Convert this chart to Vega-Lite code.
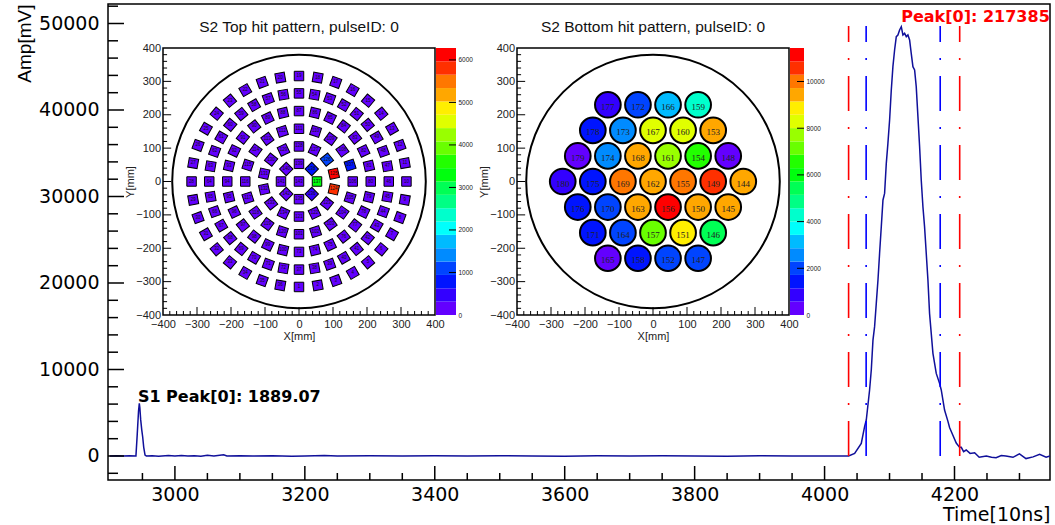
{
"$schema":"https://vega.github.io/schema/vega-lite/v6.json",
"width":942,"height":476,
"autosize":{"type":"none"},
"padding":{"left":108,"top":4,"right":5,"bottom":45},
"background":"white",
"config":{"view":{"stroke":"#000","strokeWidth":1.5},
 "font":"Liberation Sans",
 "axis":{"labelFlush":false,"labelOverlap":false,"grid":false,"domain":false,"ticks":false,"labelColor":"#000","titleColor":"#000","titleFontWeight":"normal","labelFont":"Liberation Sans","titleFont":"Liberation Sans"}},
"datasets":{
"wave":[{"t":2900,"a":0},{"t":2910,"a":30},{"t":2920,"a":0},{"t":2930,"a":20},{"t":2940,"a":0},{"t":2942,"a":2500},{"t":2944,"a":5200},{"t":2945.2,"a":6100},{"t":2946,"a":5600},{"t":2947.3,"a":4200},{"t":2949,"a":3000},{"t":2950.4,"a":2200},{"t":2952,"a":1000},{"t":2954,"a":100},{"t":2956,"a":0},{"t":2965,"a":20},{"t":2975,"a":-30},{"t":2990,"a":50},{"t":3000,"a":0},{"t":3010,"a":60},{"t":3020,"a":0},{"t":3030,"a":40},{"t":3040,"a":-20},{"t":3050,"a":80},{"t":3060,"a":0},{"t":3075,"a":150},{"t":3080,"a":0},{"t":3100,"a":40},{"t":3120,"a":0},{"t":3150,"a":30},{"t":3180,"a":-20},{"t":3200,"a":0},{"t":3230,"a":60},{"t":3250,"a":0},{"t":3300,"a":20},{"t":3350,"a":-10},{"t":3400,"a":30},{"t":3450,"a":0},{"t":3500,"a":40},{"t":3550,"a":0},{"t":3600,"a":-20},{"t":3650,"a":30},{"t":3700,"a":0},{"t":3750,"a":20},{"t":3800,"a":0},{"t":3850,"a":-30},{"t":3900,"a":20},{"t":3950,"a":0},{"t":4000,"a":10},{"t":4020,"a":0},{"t":4037,"a":0},
{"t":4046.3,"a":300},{"t":4056.5,"a":1460},{"t":4061.6,"a":3390},{"t":4064.2,"a":4160},{"t":4069.3,"a":7630},{"t":4071.9,"a":9940},{"t":4074.5,"a":13400},{"t":4077,"a":14950},{"t":4079.6,"a":17650},{"t":4082.2,"a":20340},{"t":4084.7,"a":23430},{"t":4087.3,"a":26510},{"t":4089.9,"a":29600},{"t":4092.4,"a":30360},{"t":4095,"a":33830},{"t":4097.5,"a":36140},{"t":4100.1,"a":38840},{"t":4102.7,"a":42310},{"t":4105.2,"a":45010},{"t":4107.8,"a":46940},{"t":4110.4,"a":48480},{"t":4112.9,"a":48670},{"t":4115.5,"a":49250},{"t":4118.1,"a":49630},{"t":4120.6,"a":48670},{"t":4123.2,"a":48860},{"t":4125.8,"a":48480},{"t":4128.3,"a":48670},{"t":4130.9,"a":48090},{"t":4133.4,"a":46550},{"t":4136,"a":45010},{"t":4138.6,"a":44630},{"t":4141.1,"a":42700},{"t":4143.7,"a":39230},{"t":4146.3,"a":35760},{"t":4148.8,"a":31910},{"t":4151.4,"a":28820},{"t":4153.9,"a":26510},{"t":4156.5,"a":23430},{"t":4159.1,"a":20340},{"t":4161.6,"a":16490},{"t":4164.2,"a":14180},{"t":4166.8,"a":11870},{"t":4171.9,"a":9550},{"t":4177,"a":8400},{"t":4179.6,"a":7630},{"t":4182.2,"a":6470},{"t":4184.7,"a":5310},{"t":4189.9,"a":4000},{"t":4192.4,"a":3300},{"t":4197.5,"a":2400},{"t":4202.7,"a":1500},{"t":4207.8,"a":1000},{"t":4210.4,"a":1000},{"t":4214,"a":500},{"t":4218,"a":690},{"t":4224,"a":300},{"t":4231,"a":380},{"t":4238,"a":-150},{"t":4249,"a":0},{"t":4257,"a":-150},{"t":4264,"a":-200},{"t":4272,"a":50},{"t":4279,"a":0},{"t":4290,"a":-150},{"t":4300,"a":250},{"t":4310,"a":-300},{"t":4321,"a":-100},{"t":4331,"a":200},{"t":4341,"a":-150},{"t":4347,"a":0}],
"marks":[{"t":4037,"c":"r"},{"t":4208,"c":"r"},{"t":4064,"c":"b"},{"t":4178,"c":"b"}],
"notes":[{"t":2943,"a":6200,"label":"S1 Peak[0]: 1889.07","c":"k"},{"t":4118,"a":50200,"label":"Peak[0]: 217385","c":"r"}],
"top":[{"id":1,"x":0,"y":-316,"phi":270,"v":180},{"id":2,"x":54.9,"y":-311.2,"phi":280,"v":240},{"id":3,"x":108.1,"y":-296.9,"phi":290,"v":150},{"id":4,"x":158,"y":-273.7,"phi":300,"v":210},{"id":5,"x":203.1,"y":-242.1,"phi":310,"v":270},{"id":6,"x":242.1,"y":-203.1,"phi":320,"v":130},{"id":7,"x":273.7,"y":-158,"phi":330,"v":200},{"id":8,"x":296.9,"y":-108.1,"phi":340,"v":260},{"id":9,"x":311.2,"y":-54.9,"phi":350,"v":170},{"id":10,"x":316,"y":0,"phi":0,"v":230},{"id":11,"x":311.2,"y":54.9,"phi":10,"v":180},{"id":12,"x":296.9,"y":108.1,"phi":20,"v":240},{"id":13,"x":273.7,"y":158,"phi":30,"v":150},{"id":14,"x":242.1,"y":203.1,"phi":40,"v":210},{"id":15,"x":203.1,"y":242.1,"phi":50,"v":270},{"id":16,"x":158,"y":273.7,"phi":60,"v":130},{"id":17,"x":108.1,"y":296.9,"phi":70,"v":200},{"id":18,"x":54.9,"y":311.2,"phi":80,"v":260},{"id":19,"x":0,"y":316,"phi":90,"v":170},{"id":20,"x":-54.9,"y":311.2,"phi":100,"v":230},{"id":21,"x":-108.1,"y":296.9,"phi":110,"v":180},{"id":22,"x":-158,"y":273.7,"phi":120,"v":240},{"id":23,"x":-203.1,"y":242.1,"phi":130,"v":150},{"id":24,"x":-242.1,"y":203.1,"phi":140,"v":210},{"id":25,"x":-273.7,"y":158,"phi":150,"v":270},{"id":26,"x":-296.9,"y":108.1,"phi":160,"v":130},{"id":27,"x":-311.2,"y":54.9,"phi":170,"v":200},{"id":28,"x":-316,"y":0,"phi":180,"v":260},{"id":29,"x":-311.2,"y":-54.9,"phi":190,"v":170},{"id":30,"x":-296.9,"y":-108.1,"phi":200,"v":230},{"id":31,"x":-273.7,"y":-158,"phi":210,"v":180},{"id":32,"x":-242.1,"y":-203.1,"phi":220,"v":240},{"id":33,"x":-203.1,"y":-242.1,"phi":230,"v":150},{"id":34,"x":-158,"y":-273.7,"phi":240,"v":210},{"id":35,"x":-108.1,"y":-296.9,"phi":250,"v":270},{"id":36,"x":-54.9,"y":-311.2,"phi":260,"v":130},
{"id":37,"x":0,"y":-264,"phi":270,"v":200},{"id":38,"x":45.8,"y":-260,"phi":280,"v":260},{"id":39,"x":90.3,"y":-248.1,"phi":290,"v":170},{"id":40,"x":132,"y":-228.6,"phi":300,"v":230},{"id":41,"x":169.7,"y":-202.2,"phi":310,"v":180},{"id":42,"x":202.2,"y":-169.7,"phi":320,"v":240},{"id":43,"x":228.6,"y":-132,"phi":330,"v":150},{"id":44,"x":248.1,"y":-90.3,"phi":340,"v":210},{"id":45,"x":260,"y":-45.8,"phi":350,"v":270},{"id":46,"x":264,"y":0,"phi":0,"v":130},{"id":47,"x":260,"y":45.8,"phi":10,"v":200},{"id":48,"x":248.1,"y":90.3,"phi":20,"v":260},{"id":49,"x":228.6,"y":132,"phi":30,"v":170},{"id":50,"x":202.2,"y":169.7,"phi":40,"v":230},{"id":51,"x":169.7,"y":202.2,"phi":50,"v":180},{"id":52,"x":132,"y":228.6,"phi":60,"v":240},{"id":53,"x":90.3,"y":248.1,"phi":70,"v":150},{"id":54,"x":45.8,"y":260,"phi":80,"v":210},{"id":55,"x":0,"y":264,"phi":90,"v":270},{"id":56,"x":-45.8,"y":260,"phi":100,"v":130},{"id":57,"x":-90.3,"y":248.1,"phi":110,"v":200},{"id":58,"x":-132,"y":228.6,"phi":120,"v":260},{"id":59,"x":-169.7,"y":202.2,"phi":130,"v":170},{"id":60,"x":-202.2,"y":169.7,"phi":140,"v":230},{"id":61,"x":-228.6,"y":132,"phi":150,"v":180},{"id":62,"x":-248.1,"y":90.3,"phi":160,"v":240},{"id":63,"x":-260,"y":45.8,"phi":170,"v":150},{"id":64,"x":-264,"y":0,"phi":180,"v":210},{"id":65,"x":-260,"y":-45.8,"phi":190,"v":270},{"id":66,"x":-248.1,"y":-90.3,"phi":200,"v":130},{"id":67,"x":-228.6,"y":-132,"phi":210,"v":200},{"id":68,"x":-202.2,"y":-169.7,"phi":220,"v":260},{"id":69,"x":-169.7,"y":-202.2,"phi":230,"v":170},{"id":70,"x":-132,"y":-228.6,"phi":240,"v":230},{"id":71,"x":-90.3,"y":-248.1,"phi":250,"v":180},{"id":72,"x":-45.8,"y":-260,"phi":260,"v":240},
{"id":73,"x":0,"y":-211,"phi":270,"v":150},{"id":74,"x":46.9,"y":-205.7,"phi":282.9,"v":210},{"id":75,"x":91.6,"y":-190.1,"phi":295.7,"v":270},{"id":76,"x":131.6,"y":-165,"phi":308.6,"v":130},{"id":77,"x":165,"y":-131.6,"phi":321.4,"v":200},{"id":78,"x":190.1,"y":-91.6,"phi":334.3,"v":260},{"id":79,"x":205.7,"y":-46.9,"phi":347.1,"v":170},{"id":80,"x":211,"y":0,"phi":0,"v":230},{"id":81,"x":205.7,"y":46.9,"phi":12.9,"v":180},{"id":82,"x":190.1,"y":91.6,"phi":25.7,"v":240},{"id":83,"x":165,"y":131.6,"phi":38.6,"v":150},{"id":84,"x":131.6,"y":165,"phi":51.4,"v":210},{"id":85,"x":91.6,"y":190.1,"phi":64.3,"v":270},{"id":86,"x":46.9,"y":205.7,"phi":77.1,"v":130},{"id":87,"x":0,"y":211,"phi":90,"v":200},{"id":88,"x":-46.9,"y":205.7,"phi":102.9,"v":260},{"id":89,"x":-91.6,"y":190.1,"phi":115.7,"v":170},{"id":90,"x":-131.6,"y":165,"phi":128.6,"v":230},{"id":91,"x":-165,"y":131.6,"phi":141.4,"v":180},{"id":92,"x":-190.1,"y":91.6,"phi":154.3,"v":240},{"id":93,"x":-205.7,"y":46.9,"phi":167.1,"v":150},{"id":94,"x":-211,"y":0,"phi":180,"v":210},{"id":95,"x":-205.7,"y":-46.9,"phi":192.9,"v":270},{"id":96,"x":-190.1,"y":-91.6,"phi":205.7,"v":130},{"id":97,"x":-165,"y":-131.6,"phi":218.6,"v":200},{"id":98,"x":-131.6,"y":-165,"phi":231.4,"v":260},{"id":99,"x":-91.6,"y":-190.1,"phi":244.3,"v":170},{"id":100,"x":-46.9,"y":-205.7,"phi":257.1,"v":230},
{"id":101,"x":0,"y":-158,"phi":270,"v":180},{"id":102,"x":48.8,"y":-150.3,"phi":288,"v":240},{"id":103,"x":92.9,"y":-127.8,"phi":306,"v":150},{"id":104,"x":127.8,"y":-92.9,"phi":324,"v":210},{"id":105,"x":150.3,"y":-48.8,"phi":342,"v":270},{"id":106,"x":158,"y":0,"phi":0,"v":280},{"id":107,"x":150.3,"y":48.8,"phi":18,"v":720},{"id":108,"x":127.8,"y":92.9,"phi":36,"v":260},{"id":109,"x":92.9,"y":127.8,"phi":54,"v":170},{"id":110,"x":48.8,"y":150.3,"phi":72,"v":230},{"id":111,"x":0,"y":158,"phi":90,"v":180},{"id":112,"x":-48.8,"y":150.3,"phi":108,"v":240},{"id":113,"x":-92.9,"y":127.8,"phi":126,"v":150},{"id":114,"x":-127.8,"y":92.9,"phi":144,"v":210},{"id":115,"x":-150.3,"y":48.8,"phi":162,"v":270},{"id":116,"x":-158,"y":0,"phi":180,"v":130},{"id":117,"x":-150.3,"y":-48.8,"phi":198,"v":200},{"id":118,"x":-127.8,"y":-92.9,"phi":216,"v":260},{"id":119,"x":-92.9,"y":-127.8,"phi":234,"v":170},{"id":120,"x":-48.8,"y":-150.3,"phi":252,"v":230},
{"id":121,"x":0,"y":-105,"phi":270,"v":200},{"id":122,"x":45.6,"y":-94.6,"phi":295.7,"v":280},{"id":123,"x":82.1,"y":-65.5,"phi":321.4,"v":300},{"id":124,"x":102.4,"y":-23.4,"phi":347.1,"v":5800},{"id":125,"x":102.4,"y":23.4,"phi":12.9,"v":6280},{"id":126,"x":82.1,"y":65.5,"phi":38.6,"v":1050},{"id":127,"x":45.6,"y":94.6,"phi":64.3,"v":290},{"id":128,"x":0,"y":105,"phi":90,"v":240},{"id":129,"x":-45.6,"y":94.6,"phi":115.7,"v":210},{"id":130,"x":-82.1,"y":65.5,"phi":141.4,"v":180},{"id":131,"x":-102.4,"y":23.4,"phi":167.1,"v":200},{"id":132,"x":-102.4,"y":-23.4,"phi":192.9,"v":190},{"id":133,"x":-82.1,"y":-65.5,"phi":218.6,"v":170},{"id":134,"x":-45.6,"y":-94.6,"phi":244.3,"v":220},
{"id":135,"x":0,"y":-53,"phi":270,"v":300},{"id":136,"x":37.5,"y":-37.5,"phi":315,"v":450},{"id":137,"x":53,"y":0,"phi":0,"v":3300},{"id":138,"x":37.5,"y":37.5,"phi":45,"v":780},{"id":139,"x":0,"y":53,"phi":90,"v":280},{"id":140,"x":-37.5,"y":37.5,"phi":135,"v":250},{"id":141,"x":-53,"y":0,"phi":180,"v":240},{"id":142,"x":-37.5,"y":-37.5,"phi":225,"v":260},{"id":143,"x":0,"y":0,"phi":0,"v":290}],
"bot":[{"id":177,"x":-132.75,"y":229.9,"v":800},{"id":172,"x":-44.25,"y":229.9,"v":2000},{"id":166,"x":44.25,"y":229.9,"v":3150},{"id":159,"x":132.75,"y":229.9,"v":4300},
{"id":178,"x":-177,"y":153.3,"v":1430},{"id":173,"x":-88.5,"y":153.3,"v":2570},{"id":167,"x":0,"y":153.3,"v":8300},{"id":160,"x":88.5,"y":153.3,"v":8350},{"id":153,"x":177,"y":153.3,"v":9450},
{"id":179,"x":-221.25,"y":76.6,"v":450},{"id":174,"x":-132.75,"y":76.6,"v":2600},{"id":168,"x":-44.25,"y":76.6,"v":9400},{"id":161,"x":44.25,"y":76.6,"v":7700},{"id":154,"x":132.75,"y":76.6,"v":6550},{"id":148,"x":221.25,"y":76.6,"v":450},
{"id":180,"x":-265.5,"y":0,"v":800},{"id":175,"x":-177,"y":0,"v":1400},{"id":169,"x":-88.5,"y":0,"v":10000},{"id":162,"x":0,"y":0,"v":9600},{"id":155,"x":88.5,"y":0,"v":10050},{"id":149,"x":177,"y":0,"v":10800},{"id":144,"x":265.5,"y":0,"v":9500},
{"id":176,"x":-221.25,"y":-76.6,"v":1450},{"id":170,"x":-132.75,"y":-76.6,"v":2050},{"id":163,"x":-44.25,"y":-76.6,"v":9350},{"id":156,"x":44.25,"y":-76.6,"v":11435},{"id":150,"x":132.75,"y":-76.6,"v":9450},{"id":145,"x":221.25,"y":-76.6,"v":9300},
{"id":171,"x":-177,"y":-153.3,"v":1500},{"id":164,"x":-88.5,"y":-153.3,"v":2100},{"id":157,"x":0,"y":-153.3,"v":7200},{"id":151,"x":88.5,"y":-153.3,"v":8900},{"id":146,"x":177,"y":-153.3,"v":5500},
{"id":165,"x":-132.75,"y":-229.9,"v":500},{"id":158,"x":-44.25,"y":-229.9,"v":1500},{"id":152,"x":44.25,"y":-229.9,"v":1900},{"id":147,"x":132.75,"y":-229.9,"v":1950}],
"cbt":[{"b":0,"lo":0,"hi":314},{"b":1,"lo":314,"hi":628},{"b":2,"lo":628,"hi":942},{"b":3,"lo":942,"hi":1256},{"b":4,"lo":1256,"hi":1570},{"b":5,"lo":1570,"hi":1884},{"b":6,"lo":1884,"hi":2198},{"b":7,"lo":2198,"hi":2512},{"b":8,"lo":2512,"hi":2826},{"b":9,"lo":2826,"hi":3140},{"b":10,"lo":3140,"hi":3454},{"b":11,"lo":3454,"hi":3768},{"b":12,"lo":3768,"hi":4082},{"b":13,"lo":4082,"hi":4396},{"b":14,"lo":4396,"hi":4710},{"b":15,"lo":4710,"hi":5024},{"b":16,"lo":5024,"hi":5338},{"b":17,"lo":5338,"hi":5652},{"b":18,"lo":5652,"hi":5966},{"b":19,"lo":5966,"hi":6280}],
"cbb":[{"b":0,"lo":0,"hi":571.75},{"b":1,"lo":571.75,"hi":1143.5},{"b":2,"lo":1143.5,"hi":1715.25},{"b":3,"lo":1715.25,"hi":2287},{"b":4,"lo":2287,"hi":2858.75},{"b":5,"lo":2858.75,"hi":3430.5},{"b":6,"lo":3430.5,"hi":4002.25},{"b":7,"lo":4002.25,"hi":4574},{"b":8,"lo":4574,"hi":5145.75},{"b":9,"lo":5145.75,"hi":5717.5},{"b":10,"lo":5717.5,"hi":6289.25},{"b":11,"lo":6289.25,"hi":6861},{"b":12,"lo":6861,"hi":7432.75},{"b":13,"lo":7432.75,"hi":8004.5},{"b":14,"lo":8004.5,"hi":8576.25},{"b":15,"lo":8576.25,"hi":9148},{"b":16,"lo":9148,"hi":9719.75},{"b":17,"lo":9719.75,"hi":10291.5},{"b":18,"lo":10291.5,"hi":10863.25},{"b":19,"lo":10863.25,"hi":11435}],
"ttl":[{"x":0,"y":449,"label":"S2 Top hit pattern, pulseID: 0"}],
"btl":[{"x":0,"y":449,"label":"S2 Bottom hit pattern, pulseID: 0"}],
"one":[{"x":0,"y":0}]
},
"layer":[
{"layer":[
 {"data":{"name":"wave"},"mark":{"type":"line","color":"#10109a","strokeWidth":1.5},
  "encoding":{
   "x":{"field":"t","type":"quantitative","scale":{"domain":[2897,4347],"nice":false,"zero":false},
        "axis":{"orient":"bottom","values":[3000,3200,3400,3600,3800,4000,4200],"format":"d","labelPadding":5,"labelFont":"DejaVu Sans","labelFontSize":19,"title":"Time[10ns]","titleFont":"DejaVu Sans","titleFontSize":19,"titleAnchor":"end","titlePadding":1}},
   "y":{"field":"a","type":"quantitative","scale":{"domain":[-2775,52254],"nice":false,"zero":false},
        "axis":{"orient":"left","values":[0,10000,20000,30000,40000,50000],"format":"d","labelPadding":9,"labelFont":"DejaVu Sans","labelFontSize":19,"title":"Amp[mV]","titleFont":"Liberation Sans","titleFontSize":19,"titleAnchor":"end","titlePadding":4}}}},
 {"data":{"values":[{"t":3000,"c":"k"},{"t":3200,"c":"k"},{"t":3400,"c":"k"},{"t":3600,"c":"k"},{"t":3800,"c":"k"},{"t":4000,"c":"k"},{"t":4200,"c":"k"}]},
  "mark":{"type":"rule","strokeWidth":1.5},
  "encoding":{"x":{"field":"t","type":"quantitative","scale":{"domain":[2897,4347],"nice":false,"zero":false},"axis":null},
   "y":{"datum":-2775,"type":"quantitative","scale":{"domain":[-2775,52254],"nice":false,"zero":false},"axis":null},"y2":{"datum":-1157},
   "color":{"field":"c","type":"nominal","scale":{"domain":["r","b","k"],"range":["#ff0000","#0000ff","#000000"]},"legend":null}}},
 {"data":{"values":[{"t":2950,"c":"k"},{"t":3050,"c":"k"},{"t":3100,"c":"k"},{"t":3150,"c":"k"},{"t":3250,"c":"k"},{"t":3300,"c":"k"},{"t":3350,"c":"k"},{"t":3450,"c":"k"},{"t":3500,"c":"k"},{"t":3550,"c":"k"},{"t":3650,"c":"k"},{"t":3700,"c":"k"},{"t":3750,"c":"k"},{"t":3850,"c":"k"},{"t":3900,"c":"k"},{"t":3950,"c":"k"},{"t":4050,"c":"k"},{"t":4100,"c":"k"},{"t":4150,"c":"k"},{"t":4250,"c":"k"},{"t":4300,"c":"k"}]},
  "mark":{"type":"rule","strokeWidth":1.5},
  "encoding":{"x":{"field":"t","type":"quantitative","scale":{"domain":[2897,4347],"nice":false,"zero":false},"axis":null},
   "y":{"datum":-2775,"type":"quantitative","scale":{"domain":[-2775,52254],"nice":false,"zero":false},"axis":null},"y2":{"datum":-1966},
   "color":{"field":"c","type":"nominal","scale":{"domain":["r","b","k"],"range":["#ff0000","#0000ff","#000000"]},"legend":null}}},
 {"data":{"values":[{"a":0,"c":"k"},{"a":10000,"c":"k"},{"a":20000,"c":"k"},{"a":30000,"c":"k"},{"a":40000,"c":"k"},{"a":50000,"c":"k"}]},
  "mark":{"type":"rule","strokeWidth":1.5},
  "encoding":{"y":{"field":"a","type":"quantitative","scale":{"domain":[-2775,52254],"nice":false,"zero":false},"axis":null},
   "x":{"datum":2897,"type":"quantitative","scale":{"domain":[2897,4347],"nice":false,"zero":false},"axis":null},"x2":{"datum":2921.6},
   "color":{"field":"c","type":"nominal","scale":{"domain":["r","b","k"],"range":["#ff0000","#0000ff","#000000"]},"legend":null}}},
 {"data":{"values":[{"a":-2000,"c":"k"},{"a":2000,"c":"k"},{"a":4000,"c":"k"},{"a":6000,"c":"k"},{"a":8000,"c":"k"},{"a":12000,"c":"k"},{"a":14000,"c":"k"},{"a":16000,"c":"k"},{"a":18000,"c":"k"},{"a":22000,"c":"k"},{"a":24000,"c":"k"},{"a":26000,"c":"k"},{"a":28000,"c":"k"},{"a":32000,"c":"k"},{"a":34000,"c":"k"},{"a":36000,"c":"k"},{"a":38000,"c":"k"},{"a":42000,"c":"k"},{"a":44000,"c":"k"},{"a":46000,"c":"k"},{"a":48000,"c":"k"},{"a":52000,"c":"k"}]},
  "mark":{"type":"rule","strokeWidth":1.5},
  "encoding":{"y":{"field":"a","type":"quantitative","scale":{"domain":[-2775,52254],"nice":false,"zero":false},"axis":null},
   "x":{"datum":2897,"type":"quantitative","scale":{"domain":[2897,4347],"nice":false,"zero":false},"axis":null},"x2":{"datum":2912.4},
   "color":{"field":"c","type":"nominal","scale":{"domain":["r","b","k"],"range":["#ff0000","#0000ff","#000000"]},"legend":null}}},
 {"data":{"name":"marks"},"mark":{"type":"rule","strokeWidth":1.6,"strokeDash":[35,16,2,16]},
  "encoding":{
   "x":{"field":"t","type":"quantitative","scale":{"domain":[2897,4347],"nice":false,"zero":false},"axis":null},
   "y":{"datum":0,"type":"quantitative","scale":{"domain":[-2775,52254],"nice":false,"zero":false},"axis":null},
   "y2":{"datum":49700},
   "color":{"field":"c","type":"nominal","scale":{"domain":["r","b","k"],"range":["#ff0000","#0000ff","#000000"]},"legend":null}}},
 {"data":{"name":"notes"},"mark":{"type":"text","font":"DejaVu Sans","fontSize":16,"fontWeight":"bold","align":"left","baseline":"alphabetic"},
  "encoding":{
   "x":{"field":"t","type":"quantitative","scale":{"domain":[2897,4347],"nice":false,"zero":false},"axis":null},
   "y":{"field":"a","type":"quantitative","scale":{"domain":[-2775,52254],"nice":false,"zero":false},"axis":null},
   "text":{"field":"label","type":"nominal"},
   "color":{"field":"c","type":"nominal","scale":{"domain":["r","b","k"],"range":["#ff0000","#0000ff","#000000"]},"legend":null}}}
 ],
 "resolve":{"axis":{"x":"independent","y":"independent"}}
},
{"layer":[
 {"data":{"name":"one"},"mark":{"type":"rect","fill":"white","stroke":"#000","strokeWidth":1.5},
  "encoding":{
   "x":{"datum":-400,"type":"quantitative","scale":{"domain":[-400,400],"range":[55,327],"nice":false,"zero":false},"axis":null},
   "x2":{"datum":400},
   "y":{"datum":-400,"type":"quantitative","scale":{"domain":[-400,400],"range":[311,44],"nice":false,"zero":false},"axis":null},
   "y2":{"datum":400}}},
 {"data":{"values":[{"v":-300,"c":"k"},{"v":-200,"c":"k"},{"v":-100,"c":"k"},{"v":0,"c":"k"},{"v":100,"c":"k"},{"v":200,"c":"k"},{"v":300,"c":"k"}]},
  "mark":{"type":"rule","strokeWidth":1},
  "encoding":{"x":{"field":"v","type":"quantitative","scale":{"domain":[-400,400],"range":[55,327],"nice":false,"zero":false},"axis":null},
   "y":{"datum":-400,"type":"quantitative","scale":{"domain":[-400,400],"range":[311,44],"nice":false,"zero":false},"axis":null},"y2":{"datum":-376},
   "stroke":{"field":"c","type":"nominal","scale":{"domain":["k"],"range":["#000000"]},"legend":null}}},
 {"data":{"values":[{"v":-300,"c":"k"},{"v":-200,"c":"k"},{"v":-100,"c":"k"},{"v":0,"c":"k"},{"v":100,"c":"k"},{"v":200,"c":"k"},{"v":300,"c":"k"}]},
  "mark":{"type":"rule","strokeWidth":1},
  "encoding":{"y":{"field":"v","type":"quantitative","scale":{"domain":[-400,400],"range":[311,44],"nice":false,"zero":false},"axis":null},
   "x":{"datum":-400,"type":"quantitative","scale":{"domain":[-400,400],"range":[55,327],"nice":false,"zero":false},"axis":null},"x2":{"datum":-376},
   "stroke":{"field":"c","type":"nominal","scale":{"domain":["k"],"range":["#000000"]},"legend":null}}},
 {"data":{"values":[{"v":-380,"c":"k"},{"v":-360,"c":"k"},{"v":-340,"c":"k"},{"v":-320,"c":"k"},{"v":-280,"c":"k"},{"v":-260,"c":"k"},{"v":-240,"c":"k"},{"v":-220,"c":"k"},{"v":-180,"c":"k"},{"v":-160,"c":"k"},{"v":-140,"c":"k"},{"v":-120,"c":"k"},{"v":-80,"c":"k"},{"v":-60,"c":"k"},{"v":-40,"c":"k"},{"v":-20,"c":"k"},{"v":20,"c":"k"},{"v":40,"c":"k"},{"v":60,"c":"k"},{"v":80,"c":"k"},{"v":120,"c":"k"},{"v":140,"c":"k"},{"v":160,"c":"k"},{"v":180,"c":"k"},{"v":220,"c":"k"},{"v":240,"c":"k"},{"v":260,"c":"k"},{"v":280,"c":"k"},{"v":320,"c":"k"},{"v":340,"c":"k"},{"v":360,"c":"k"},{"v":380,"c":"k"}]},
  "mark":{"type":"rule","strokeWidth":1},
  "encoding":{"x":{"field":"v","type":"quantitative","scale":{"domain":[-400,400],"range":[55,327],"nice":false,"zero":false},"axis":null},
   "y":{"datum":-400,"type":"quantitative","scale":{"domain":[-400,400],"range":[311,44],"nice":false,"zero":false},"axis":null},"y2":{"datum":-388},
   "stroke":{"field":"c","type":"nominal","scale":{"domain":["k"],"range":["#000000"]},"legend":null}}},
 {"data":{"values":[{"v":-380,"c":"k"},{"v":-360,"c":"k"},{"v":-340,"c":"k"},{"v":-320,"c":"k"},{"v":-280,"c":"k"},{"v":-260,"c":"k"},{"v":-240,"c":"k"},{"v":-220,"c":"k"},{"v":-180,"c":"k"},{"v":-160,"c":"k"},{"v":-140,"c":"k"},{"v":-120,"c":"k"},{"v":-80,"c":"k"},{"v":-60,"c":"k"},{"v":-40,"c":"k"},{"v":-20,"c":"k"},{"v":20,"c":"k"},{"v":40,"c":"k"},{"v":60,"c":"k"},{"v":80,"c":"k"},{"v":120,"c":"k"},{"v":140,"c":"k"},{"v":160,"c":"k"},{"v":180,"c":"k"},{"v":220,"c":"k"},{"v":240,"c":"k"},{"v":260,"c":"k"},{"v":280,"c":"k"},{"v":320,"c":"k"},{"v":340,"c":"k"},{"v":360,"c":"k"},{"v":380,"c":"k"}]},
  "mark":{"type":"rule","strokeWidth":1},
  "encoding":{"y":{"field":"v","type":"quantitative","scale":{"domain":[-400,400],"range":[311,44],"nice":false,"zero":false},"axis":null},
   "x":{"datum":-400,"type":"quantitative","scale":{"domain":[-400,400],"range":[55,327],"nice":false,"zero":false},"axis":null},"x2":{"datum":-388},
   "stroke":{"field":"c","type":"nominal","scale":{"domain":["k"],"range":["#000000"]},"legend":null}}},
 {"data":{"name":"one"},"mark":{"type":"point","shape":"circle","filled":false,"color":"#000","strokeWidth":2,"size":64300,"opacity":1},
  "encoding":{
   "x":{"field":"x","type":"quantitative","scale":{"domain":[-400,400],"range":[55,327],"nice":false,"zero":false},"axis":null},
   "y":{"field":"y","type":"quantitative","scale":{"domain":[-400,400],"range":[311,44],"nice":false,"zero":false},"axis":null}}},
 {"data":{"name":"top"},"mark":{"type":"point","shape":"square","filled":true,"stroke":"#000","strokeWidth":1,"size":90,"opacity":1},
  "encoding":{
   "x":{"field":"x","type":"quantitative","scale":{"domain":[-400,400],"range":[55,327],"nice":false,"zero":false},
        "axis":{"orient":"bottom","offset":-165,"values":[-400,-300,-200,-100,0,100,200,300,400],"format":"d","labelPadding":3,"labelFontSize":11,"labelColor":"#222","title":"X[mm]","titleFontSize":11,"titleColor":"#222","titlePadding":1}},
   "y":{"field":"y","type":"quantitative","scale":{"domain":[-400,400],"range":[311,44],"nice":false,"zero":false},
        "axis":{"orient":"left","offset":-55,"values":[-400,-300,-200,-100,0,100,200,300,400],"format":"d","labelPadding":2.5,"labelFontSize":11,"labelColor":"#222","title":"Y[mm]","titleFontSize":11,"titleColor":"#222","titlePadding":0}},
   "angle":{"field":"phi","type":"quantitative","scale":{"domain":[0,360],"range":[360,0]}},
   "color":{"field":"v","type":"quantitative","scale":{"type":"quantize","domain":[0,6280],"range":["#6300ff","#3300ff","#0014ff","#0044ff","#008bff","#00bbff","#00fffc","#00ffcc","#00ff85","#00ff55","#00ff0e","#22ff00","#69ff00","#99ff00","#e0ff00","#ffee00","#ffa700","#ff7700","#ff3000","#ff0000"]},"legend":null}}},
 {"data":{"name":"top"},"mark":{"type":"text","fontSize":4.5,"color":"#111"},
  "encoding":{
   "x":{"field":"x","type":"quantitative","scale":{"domain":[-400,400],"range":[55,327],"nice":false,"zero":false},"axis":null},
   "y":{"field":"y","type":"quantitative","scale":{"domain":[-400,400],"range":[311,44],"nice":false,"zero":false},"axis":null},
   "text":{"field":"id","type":"nominal"}}},
 {"data":{"name":"ttl"},"mark":{"type":"text","fontSize":15.5,"color":"#111","align":"center","baseline":"alphabetic"},
  "encoding":{
   "x":{"field":"x","type":"quantitative","scale":{"domain":[-400,400],"range":[55,327],"nice":false,"zero":false},"axis":null},
   "y":{"field":"y","type":"quantitative","scale":{"domain":[-400,400],"range":[311,44],"nice":false,"zero":false},"axis":null},
   "text":{"field":"label","type":"nominal"}}}
 ],
 "resolve":{"axis":{"x":"independent","y":"independent"}}
},
{"layer":[
 {"data":{"name":"cbt"},"mark":{"type":"rect"},
  "encoding":{
   "x":{"datum":0,"type":"quantitative","scale":{"domain":[0,1],"range":[328,348],"nice":false,"zero":false},"axis":null},
   "x2":{"datum":1},
   "y":{"field":"lo","type":"quantitative","scale":{"domain":[0,6280],"range":[311,44],"nice":false,"zero":false},
        "axis":{"orient":"right","offset":-594,"values":[0,1000,2000,3000,4000,5000,6000],"format":"d","labelPadding":2,"labelFontSize":6.5,"labelColor":"#222","title":null}},
   "y2":{"field":"hi"},
   "color":{"field":"b","type":"ordinal","scale":{"domain":[0,1,2,3,4,5,6,7,8,9,10,11,12,13,14,15,16,17,18,19],"range":["#6300ff","#3300ff","#0014ff","#0044ff","#008bff","#00bbff","#00fffc","#00ffcc","#00ff85","#00ff55","#00ff0e","#22ff00","#69ff00","#99ff00","#e0ff00","#ffee00","#ffa700","#ff7700","#ff3000","#ff0000"]},"legend":null}}},
 {"data":{"values":[{"v":1000,"c":"k"},{"v":2000,"c":"k"},{"v":3000,"c":"k"},{"v":4000,"c":"k"},{"v":5000,"c":"k"},{"v":6000,"c":"k"}]},
  "mark":{"type":"rule","strokeWidth":1},
  "encoding":{"y":{"field":"v","type":"quantitative","scale":{"domain":[0,6280],"range":[311,44],"nice":false,"zero":false},"axis":null},
   "x":{"datum":1,"type":"quantitative","scale":{"domain":[0,1],"range":[328,348],"nice":false,"zero":false},"axis":null},"x2":{"datum":0.65},
   "stroke":{"field":"c","type":"nominal","scale":{"domain":["k"],"range":["#000000"]},"legend":null}}}
 ],
 "resolve":{"axis":{"x":"independent","y":"independent"}}
},
{"layer":[
 {"data":{"name":"one"},"mark":{"type":"rect","fill":"white","stroke":"#000","strokeWidth":1.5},
  "encoding":{
   "x":{"datum":-400,"type":"quantitative","scale":{"domain":[-400,400],"range":[409,681],"nice":false,"zero":false},"axis":null},
   "x2":{"datum":400},
   "y":{"datum":-400,"type":"quantitative","scale":{"domain":[-400,400],"range":[311,44],"nice":false,"zero":false},"axis":null},
   "y2":{"datum":400}}},
 {"data":{"values":[{"v":-300,"c":"k"},{"v":-200,"c":"k"},{"v":-100,"c":"k"},{"v":0,"c":"k"},{"v":100,"c":"k"},{"v":200,"c":"k"},{"v":300,"c":"k"}]},
  "mark":{"type":"rule","strokeWidth":1},
  "encoding":{"x":{"field":"v","type":"quantitative","scale":{"domain":[-400,400],"range":[409,681],"nice":false,"zero":false},"axis":null},
   "y":{"datum":-400,"type":"quantitative","scale":{"domain":[-400,400],"range":[311,44],"nice":false,"zero":false},"axis":null},"y2":{"datum":-376},
   "stroke":{"field":"c","type":"nominal","scale":{"domain":["k"],"range":["#000000"]},"legend":null}}},
 {"data":{"values":[{"v":-300,"c":"k"},{"v":-200,"c":"k"},{"v":-100,"c":"k"},{"v":0,"c":"k"},{"v":100,"c":"k"},{"v":200,"c":"k"},{"v":300,"c":"k"}]},
  "mark":{"type":"rule","strokeWidth":1},
  "encoding":{"y":{"field":"v","type":"quantitative","scale":{"domain":[-400,400],"range":[311,44],"nice":false,"zero":false},"axis":null},
   "x":{"datum":-400,"type":"quantitative","scale":{"domain":[-400,400],"range":[409,681],"nice":false,"zero":false},"axis":null},"x2":{"datum":-376},
   "stroke":{"field":"c","type":"nominal","scale":{"domain":["k"],"range":["#000000"]},"legend":null}}},
 {"data":{"values":[{"v":-380,"c":"k"},{"v":-360,"c":"k"},{"v":-340,"c":"k"},{"v":-320,"c":"k"},{"v":-280,"c":"k"},{"v":-260,"c":"k"},{"v":-240,"c":"k"},{"v":-220,"c":"k"},{"v":-180,"c":"k"},{"v":-160,"c":"k"},{"v":-140,"c":"k"},{"v":-120,"c":"k"},{"v":-80,"c":"k"},{"v":-60,"c":"k"},{"v":-40,"c":"k"},{"v":-20,"c":"k"},{"v":20,"c":"k"},{"v":40,"c":"k"},{"v":60,"c":"k"},{"v":80,"c":"k"},{"v":120,"c":"k"},{"v":140,"c":"k"},{"v":160,"c":"k"},{"v":180,"c":"k"},{"v":220,"c":"k"},{"v":240,"c":"k"},{"v":260,"c":"k"},{"v":280,"c":"k"},{"v":320,"c":"k"},{"v":340,"c":"k"},{"v":360,"c":"k"},{"v":380,"c":"k"}]},
  "mark":{"type":"rule","strokeWidth":1},
  "encoding":{"x":{"field":"v","type":"quantitative","scale":{"domain":[-400,400],"range":[409,681],"nice":false,"zero":false},"axis":null},
   "y":{"datum":-400,"type":"quantitative","scale":{"domain":[-400,400],"range":[311,44],"nice":false,"zero":false},"axis":null},"y2":{"datum":-388},
   "stroke":{"field":"c","type":"nominal","scale":{"domain":["k"],"range":["#000000"]},"legend":null}}},
 {"data":{"values":[{"v":-380,"c":"k"},{"v":-360,"c":"k"},{"v":-340,"c":"k"},{"v":-320,"c":"k"},{"v":-280,"c":"k"},{"v":-260,"c":"k"},{"v":-240,"c":"k"},{"v":-220,"c":"k"},{"v":-180,"c":"k"},{"v":-160,"c":"k"},{"v":-140,"c":"k"},{"v":-120,"c":"k"},{"v":-80,"c":"k"},{"v":-60,"c":"k"},{"v":-40,"c":"k"},{"v":-20,"c":"k"},{"v":20,"c":"k"},{"v":40,"c":"k"},{"v":60,"c":"k"},{"v":80,"c":"k"},{"v":120,"c":"k"},{"v":140,"c":"k"},{"v":160,"c":"k"},{"v":180,"c":"k"},{"v":220,"c":"k"},{"v":240,"c":"k"},{"v":260,"c":"k"},{"v":280,"c":"k"},{"v":320,"c":"k"},{"v":340,"c":"k"},{"v":360,"c":"k"},{"v":380,"c":"k"}]},
  "mark":{"type":"rule","strokeWidth":1},
  "encoding":{"y":{"field":"v","type":"quantitative","scale":{"domain":[-400,400],"range":[311,44],"nice":false,"zero":false},"axis":null},
   "x":{"datum":-400,"type":"quantitative","scale":{"domain":[-400,400],"range":[409,681],"nice":false,"zero":false},"axis":null},"x2":{"datum":-388},
   "stroke":{"field":"c","type":"nominal","scale":{"domain":["k"],"range":["#000000"]},"legend":null}}},
 {"data":{"name":"one"},"mark":{"type":"point","shape":"circle","filled":false,"color":"#000","strokeWidth":2,"size":64300,"opacity":1},
  "encoding":{
   "x":{"field":"x","type":"quantitative","scale":{"domain":[-400,400],"range":[409,681],"nice":false,"zero":false},"axis":null},
   "y":{"field":"y","type":"quantitative","scale":{"domain":[-400,400],"range":[311,44],"nice":false,"zero":false},"axis":null}}},
 {"data":{"name":"bot"},"mark":{"type":"point","shape":"circle","filled":true,"stroke":"#000","strokeWidth":2,"size":660,"opacity":1},
  "encoding":{
   "x":{"field":"x","type":"quantitative","scale":{"domain":[-400,400],"range":[409,681],"nice":false,"zero":false},
        "axis":{"orient":"bottom","offset":-165,"values":[-400,-300,-200,-100,0,100,200,300,400],"format":"d","labelPadding":3,"labelFontSize":11,"labelColor":"#222","title":"X[mm]","titleFontSize":11,"titleColor":"#222","titlePadding":1}},
   "y":{"field":"y","type":"quantitative","scale":{"domain":[-400,400],"range":[311,44],"nice":false,"zero":false},
        "axis":{"orient":"left","offset":-409,"values":[-400,-300,-200,-100,0,100,200,300,400],"format":"d","labelPadding":2.5,"labelFontSize":11,"labelColor":"#222","title":"Y[mm]","titleFontSize":11,"titleColor":"#222","titlePadding":0}},
   "color":{"field":"v","type":"quantitative","scale":{"type":"quantize","domain":[0,11435],"range":["#6300ff","#3300ff","#0014ff","#0044ff","#008bff","#00bbff","#00fffc","#00ffcc","#00ff85","#00ff55","#00ff0e","#22ff00","#69ff00","#99ff00","#e0ff00","#ffee00","#ffa700","#ff7700","#ff3000","#ff0000"]},"legend":null}}},
 {"data":{"name":"bot"},"mark":{"type":"text","font":"Liberation Serif","fontSize":9,"color":"#222","dy":2},
  "encoding":{
   "x":{"field":"x","type":"quantitative","scale":{"domain":[-400,400],"range":[409,681],"nice":false,"zero":false},"axis":null},
   "y":{"field":"y","type":"quantitative","scale":{"domain":[-400,400],"range":[311,44],"nice":false,"zero":false},"axis":null},
   "text":{"field":"id","type":"nominal"}}},
 {"data":{"name":"btl"},"mark":{"type":"text","fontSize":15.5,"color":"#111","align":"center","baseline":"alphabetic"},
  "encoding":{
   "x":{"field":"x","type":"quantitative","scale":{"domain":[-400,400],"range":[409,681],"nice":false,"zero":false},"axis":null},
   "y":{"field":"y","type":"quantitative","scale":{"domain":[-400,400],"range":[311,44],"nice":false,"zero":false},"axis":null},
   "text":{"field":"label","type":"nominal"}}}
 ],
 "resolve":{"axis":{"x":"independent","y":"independent"}}
},
{"layer":[
 {"data":{"name":"cbb"},"mark":{"type":"rect"},
  "encoding":{
   "x":{"datum":0,"type":"quantitative","scale":{"domain":[0,1],"range":[682,696],"nice":false,"zero":false},"axis":null},
   "x2":{"datum":1},
   "y":{"field":"lo","type":"quantitative","scale":{"domain":[0,11435],"range":[311,44],"nice":false,"zero":false},
        "axis":{"orient":"right","offset":-246,"values":[0,2000,4000,6000,8000,10000],"format":"d","labelPadding":2,"labelFontSize":6.5,"labelColor":"#222","title":null}},
   "y2":{"field":"hi"},
   "color":{"field":"b","type":"ordinal","scale":{"domain":[0,1,2,3,4,5,6,7,8,9,10,11,12,13,14,15,16,17,18,19],"range":["#6300ff","#3300ff","#0014ff","#0044ff","#008bff","#00bbff","#00fffc","#00ffcc","#00ff85","#00ff55","#00ff0e","#22ff00","#69ff00","#99ff00","#e0ff00","#ffee00","#ffa700","#ff7700","#ff3000","#ff0000"]},"legend":null}}},
 {"data":{"values":[{"v":2000,"c":"k"},{"v":4000,"c":"k"},{"v":6000,"c":"k"},{"v":8000,"c":"k"},{"v":10000,"c":"k"}]},
  "mark":{"type":"rule","strokeWidth":1},
  "encoding":{"y":{"field":"v","type":"quantitative","scale":{"domain":[0,11435],"range":[311,44],"nice":false,"zero":false},"axis":null},
   "x":{"datum":1,"type":"quantitative","scale":{"domain":[0,1],"range":[682,696],"nice":false,"zero":false},"axis":null},"x2":{"datum":0.5},
   "stroke":{"field":"c","type":"nominal","scale":{"domain":["k"],"range":["#000000"]},"legend":null}}}
 ],
 "resolve":{"axis":{"x":"independent","y":"independent"}}
}
],
"resolve":{"scale":{"x":"independent","y":"independent","color":"independent","stroke":"independent"},"axis":{"x":"independent","y":"independent"}}
}
